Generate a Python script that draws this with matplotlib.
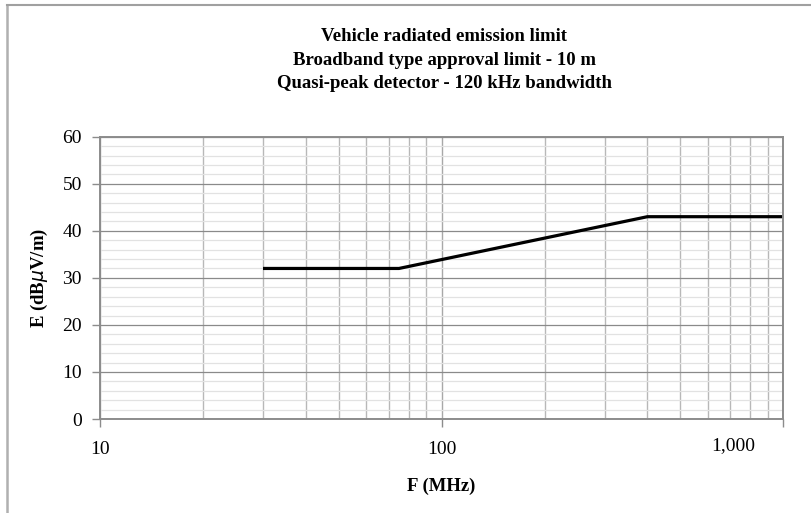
import matplotlib
matplotlib.use('Agg')
from matplotlib import pyplot as plt
from matplotlib.ticker import FixedLocator, NullFormatter, FuncFormatter
from matplotlib.lines import Line2D
import matplotlib.transforms as mtransforms

# limit curve: frequency (MHz) vs field strength (dBuV/m)
freqMHz = [30, 75, 400, 1000]
limitDb = [32, 32, 43, 43]

xMajor = [10, 100, 1000]
xMinor = [20, 30, 40, 50, 60, 70, 80, 90, 200, 300, 400, 500, 600, 700, 800, 900]
yMajor = [0, 10, 20, 30, 40, 50, 60]
yMinor = [v for v in range(0, 61, 2) if v % 10]

titleLines = ['Vehicle radiated emission limit',
              'Broadband type approval limit - 10 m',
              'Quasi-peak detector - 120 kHz bandwidth']

plt.rcParams['font.family'] = ['Liberation Serif', 'DejaVu Serif']

fig = plt.figure(figsize=(8.11, 5.13), dpi=100)
ax = fig.add_axes([0.1233, 0.1832, 0.8426, 0.5503])

ax.set_xscale('log')
ax.set_xlim(10, 1000)
ax.set_ylim(0, 60)

ax.xaxis.set_major_locator(FixedLocator(xMajor))
ax.xaxis.set_minor_locator(FixedLocator(xMinor))
ax.xaxis.set_major_formatter(FuncFormatter(lambda v, p: f'{int(v):,}'))
ax.xaxis.set_minor_formatter(NullFormatter())
ax.yaxis.set_major_locator(FixedLocator(yMajor))
ax.yaxis.set_minor_locator(FixedLocator(yMinor))

ax.grid(which='major', axis='x', color='#a8a8a8', linewidth=1.0)
ax.grid(which='minor', axis='x', color='#b8b8b8', linewidth=1.0)
ax.grid(which='major', axis='y', color='#8a8a8a', linewidth=0.9)
ax.grid(which='minor', axis='y', color='#e2e2e2', linewidth=0.9)
ax.set_axisbelow(True)

for s in ax.spines.values():
    s.set_color('#8c8c8c')
    s.set_linewidth(1.4)

ax.tick_params(which='major', direction='out', length=6, color='#8c8c8c', width=1,
               labelsize=14, pad=10)
ax.tick_params(which='minor', length=0)
ax.tick_params(axis='y', pad=7)

ax.plot(freqMHz, limitDb, color='black', linewidth=2.3, solid_capstyle='butt')

# shift the last x tick label left as in the original
fig.canvas.draw()
labels = ax.get_xticklabels()
labels[-1].set_transform(labels[-1].get_transform() +
                         mtransforms.ScaledTranslation(-50 / 100, 4 / 100, fig.dpi_scale_trans))

ax.set_xlabel('F (MHz)', fontsize=13.5, fontweight='bold', labelpad=14)
ax.set_ylabel(r'E (dB$\mu$V/m)', fontsize=13.5, fontweight='bold', labelpad=9)

fig.text(0.548, 0.945, '\n'.join(titleLines), ha='center', va='top',
         fontsize=13.5, fontweight='bold', linespacing=1.5)

# outer frame (left and top edges visible)
fig.add_artist(Line2D([0.0086, 0.0086], [0, 0.99], transform=fig.transFigure,
                      color='#b0b0b0', linewidth=1.8))
fig.add_artist(Line2D([0.0086, 1], [0.99, 0.99], transform=fig.transFigure,
                      color='#a0a0a0', linewidth=1.5))

plt.savefig('out.png', dpi=100)
plt.close(fig)
